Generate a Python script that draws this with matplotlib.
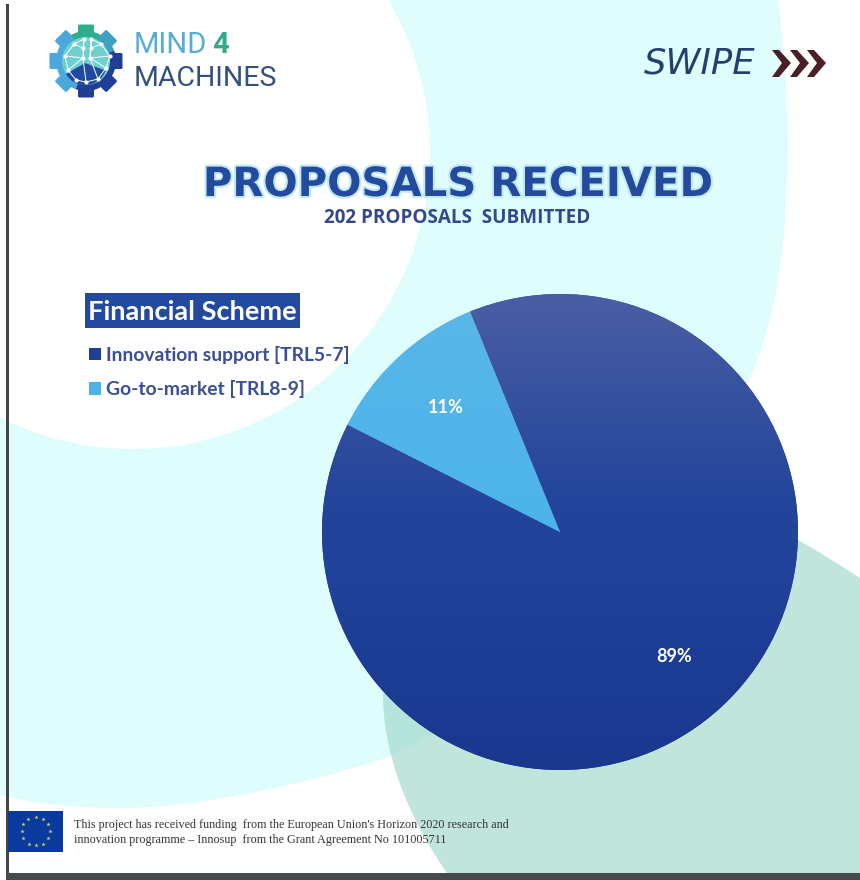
import numpy as np
import matplotlib
matplotlib.use("Agg")
import matplotlib.pyplot as plt
import matplotlib.patheffects as pe
from matplotlib.patches import Circle, PathPatch, Rectangle, Polygon, Wedge, Patch, FancyBboxPatch
from matplotlib.path import Path
from matplotlib.colors import LinearSegmentedColormap
from matplotlib.transforms import Affine2D

# ---- data ----
categories = ["Innovation support [TRL5-7]", "Go-to-market [TRL8-9]"]
proposals = [179, 23]
legend_colors = ["#1f3f96", "#4db2e6"]
title = "PROPOSALS RECEIVED"
subtitle = "202 PROPOSALS  SUBMITTED"
legend_title = "Financial Scheme"
footer = ["This project has received funding  from the European Union's Horizon 2020 research and",
          "innovation programme \u2013 Innosup  from the Grant Agreement No 101005711"]

W, H = 860, 880
fig = plt.figure(figsize=(W / 100, H / 100), dpi=100, facecolor="white")

# ---- page background in pixel coordinates ----
bg = fig.add_axes([0, 0, 1, 1])
bg.set_xlim(0, W)
bg.set_ylim(H, 0)
bg.axis("off")

C, M, L = Path.CURVE4, Path.MOVETO, Path.LINETO
cyan_v = [(0, 795), (40, 805), (80, 808), (120, 808), (200, 808), (300, 785), (383, 759),
          (500, 715), (680, 520), (750, 377), (792, 290), (795, 130), (778, 0), (0, 0), (0, 795)]
cyan_c = [M, C, C, C, C, C, C, C, C, C, C, C, C, L, L]
bg.add_patch(PathPatch(Path(cyan_v, cyan_c), fc="#dffdfd", ec="none", zorder=1))
bg.add_patch(Circle((133, 152), 297, fc="white", ec="none", zorder=2))

teal_v = [(447, 873), (410, 820), (385, 760), (383, 700), (383, 600), (600, 450), (798, 540),
          (820, 552), (840, 565), (860, 578), (860, 873), (447, 873)]
teal_c = [M, C, C, C, C, C, C, C, C, C, L, L]
bg.add_patch(PathPatch(Path(teal_v, teal_c), fc="#98d4c6", ec="none", alpha=0.6, zorder=3))

# page frame
bg.add_patch(Rectangle((6, 4), 3, 872, fc="#454545", ec="none", zorder=4))
bg.add_patch(Rectangle((6, 873), 854, 7, fc="#454a4c", ec="none", zorder=4))

# ---- logo ----
gc = (86, 61)
def gear_color(a):
    a = a % 360
    if 55 <= a < 125:
        return "#2fae8f"
    if 125 <= a < 250:
        return "#4aa8dc"
    if 5 <= a < 55:
        return "#3f9fc0"
    return "#1f3f96"
for a in np.arange(0, 360, 45):
    t = Affine2D().rotate_deg(90 - a).translate(*gc) + bg.transData
    bg.add_patch(FancyBboxPatch((-6.5, -35), 13, 14, boxstyle="round,pad=1.5", fc=gear_color(a), ec="none",
                                transform=t, zorder=5))
for t1, t2, col in [(60, 120, "#2fae8f"), (120, 250, "#4aa8dc"), (20, 60, "#3f9fc0"),
                    (250, 380, "#1f3f96")]:
    bg.add_patch(Wedge(gc, 30, -t2, -t1, fc=col, ec="none", zorder=5))
bg.add_patch(Circle(gc, 24, fc="#6fd0d2", ec="none", zorder=6))
bg.add_patch(Wedge((gc[0] - 1, gc[1] + 2), 22, 20, 150, fc="#1f4aa0", ec="none", zorder=6))
nodes = np.array([(84, 39), (91, 39), (74, 44), (101, 44), (65, 56), (110, 56), (68, 70), (106, 68),
                  (83, 58), (90, 58), (76, 80), (86, 82), (98, 79), (83, 48), (91, 48)])
links = [(0, 2), (2, 4), (4, 6), (6, 10), (10, 11), (1, 3), (3, 5), (5, 7), (7, 12), (11, 12),
         (0, 13), (13, 8), (8, 11), (1, 14), (14, 9), (9, 12), (2, 13), (3, 14), (4, 8), (5, 9),
         (6, 8), (7, 9), (0, 8), (1, 9)]
for i, j in links:
    bg.plot(nodes[[i, j], 0], nodes[[i, j], 1], color="white", lw=0.7, zorder=7)
bg.scatter(nodes[:, 0], nodes[:, 1], s=4, color="white", zorder=8)

bg.text(134, 45, "MIND", fontsize=21, family="Roboto", color="#56aed6", va="center", ha="left", zorder=9)
bg.text(212, 45, "4", fontsize=21, family="Roboto", weight="bold", color="#35a98e", va="center", ha="left", zorder=9)
bg.text(134, 79, "MACHINES", fontsize=20.5, family="Roboto", color="#33507f", va="center", ha="left", zorder=9)

# ---- swipe ----
bg.text(644, 63, "SWIPE", fontsize=25.5, family="DejaVu Sans", style="oblique", color="#24406e",
        va="center", ha="left", zorder=9)
for x0 in (772, 790, 807):
    bg.add_patch(Polygon([(x0, 50), (x0 + 7, 50), (x0 + 19, 63), (x0 + 7, 77), (x0, 77), (x0 + 10, 63)],
                         fc="#4b1f26", ec="none", zorder=9))

# ---- titles ----
bg.text(458, 185, title, fontsize=29, family="DejaVu Sans", weight="bold", color="#234a9c",
        ha="center", va="center", zorder=9,
        path_effects=[pe.withStroke(linewidth=3, foreground="#bfe9f6")])
bg.text(457, 218, subtitle, fontsize=13.6, family="Open Sans", weight="bold", color="#33498c",
        ha="center", va="center", zorder=9)

# ---- legend ----
bg.add_patch(Rectangle((85, 293), 215, 35, fc="#234a9e", ec="none", zorder=8))
bg.text(192.5, 312, legend_title, fontsize=19.6, family="Lato", weight="bold", color="white",
        ha="center", va="center", zorder=9)
handles = [Patch(fc=c, ec="none") for c in legend_colors]
leg = fig.legend(handles, categories, loc="upper left", bbox_to_anchor=(89 / W, 1 - 346 / H),
                 frameon=False, handlelength=0.62, handleheight=0.62, handletextpad=0.25,
                 labelspacing=0.85, borderpad=0, borderaxespad=0,
                 prop=dict(family="Lato", weight="bold", size=13.9), labelcolor="#3a4f95")

# ---- footer ----
bg.add_patch(Rectangle((8, 811), 55, 41, fc="#0b3a9f", ec="none", zorder=5))
star_angle = np.arange(12) * 30
bg.scatter(35.5 + 14 * np.cos(np.radians(star_angle)), 831.5 + 14 * np.sin(np.radians(star_angle)),
           marker="*", s=10, color="#d8d45a", linewidths=0, zorder=6)
for y, line in zip((825, 840), footer):
    bg.text(74, y, line, fontsize=8.7, family="Liberation Serif", color="#333333",
            va="center", ha="left", zorder=6)

# ---- pie ----
cx, cy, r = 560, 532, 238
ax = fig.add_axes([(cx - r) / W, 1 - (cy + r) / H, 2 * r / W, 2 * r / H])
wedges, _, autotexts = ax.pie(proposals, startangle=153.2, radius=1, autopct="%.0f%%", pctdistance=0.71,
                              colors=legend_colors,
                              textprops=dict(color="white", family="Lato", weight="bold", fontsize=13))

grads = [["#1a378e", "#20429a", "#22449b", "#4a5ea3"], ["#4ab0e8", "#4db4ea", "#4db4ea", "#5ab6e8"]]
yy = np.linspace(0, 1, 256).reshape(-1, 1)
for w, g in zip(wedges, grads):
    cmap = LinearSegmentedColormap.from_list("g", list(zip([0, 0.4, 0.55, 1], g)))
    im = ax.imshow(yy, origin="lower", extent=[-1, 1, -1, 1], cmap=cmap, aspect="auto", zorder=2, vmin=0, vmax=1)
    im.set_clip_path(w)
for t in autotexts:
    t.set_zorder(5)
ax.set_xlim(-1, 1)
ax.set_ylim(-1, 1)
ax.set_aspect("equal")
ax.patch.set_alpha(0)

fig.savefig("out.png", dpi=100)
